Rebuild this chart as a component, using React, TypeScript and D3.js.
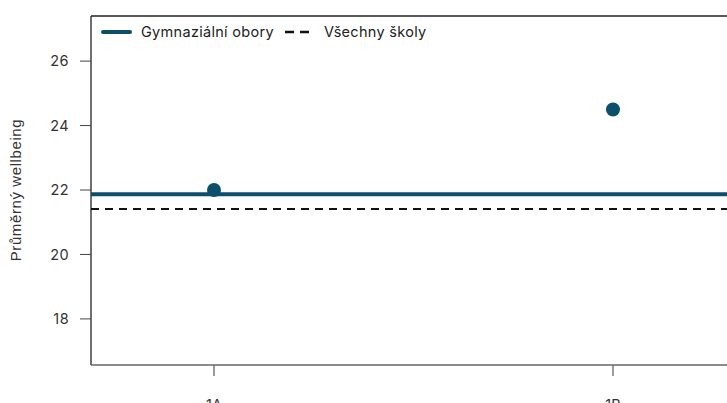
import React from 'react';
import * as d3 from 'd3';

const classes = ['1A', '1B'];
const wellbeing = [22.0, 24.5];
const groupMean = 21.87;
const allSchoolsMean = 21.41;
const yTicks = [18, 20, 22, 24, 26];
const legendLabels = ['Gymnaziální obory', 'Všechny školy'];

const TEAL = '#0b4f6c';
const W = 727,
  H = 403;
const plot = { left: 91, top: 16, bottom: 365, right: 740 };
const FONT = "Inter, 'Noto Sans', sans-serif";

export default function App() {
  const y = d3.scaleLinear().domain([16.57, 27.4]).range([plot.bottom, plot.top]);
  const xIndex = d3.scaleLinear().domain([0, 1]).range([214, 613]);
  const x = (c: string) => xIndex(classes.indexOf(c));

  const hline = (v: number) =>
    d3.line<number>()
      .x(d => d)
      .y(() => y(v))([plot.left, plot.right]) || '';

  return (
    <svg width={W} height={H} style={{ position: 'absolute', left: 0, top: 0, overflow: 'hidden' }}>
      <rect width={W} height={H} fill="#fff" />
      {/* plot box */}
      <line x1={plot.left} x2={plot.right} y1={plot.top} y2={plot.top} stroke="#222" strokeWidth={1.3} />
      <line x1={plot.left} x2={plot.left} y1={plot.top} y2={plot.bottom} stroke="#222" strokeWidth={1.3} />
      <line x1={plot.left} x2={plot.right} y1={plot.bottom} y2={plot.bottom} stroke="#666" strokeWidth={1.3} />

      {/* y axis */}
      {yTicks.map(t => (
        <g key={t}>
          <line x1={80} x2={plot.left} y1={y(t)} y2={y(t)} stroke="#444" strokeWidth={1} />
          <text x={69} y={y(t)} dy="0.36em" textAnchor="end" fontFamily={FONT} fontSize={14.5} letterSpacing={0.4} fill="#333">
            {t}
          </text>
        </g>
      ))}
      <text
        transform={`translate(21,${y(22)}) rotate(-90)`}
        textAnchor="middle"
        fontFamily="'Liberation Sans', Arial, sans-serif"
        fontSize={15}
        letterSpacing={0.6}
        fill="#333"
      >
        Průměrný wellbeing
      </text>

      {/* x axis */}
      {classes.map(c => (
        <g key={c}>
          <line x1={x(c)} x2={x(c)} y1={plot.bottom} y2={plot.bottom + 11} stroke="#666" strokeWidth={1.3} />
          <text x={x(c)} y={410} textAnchor="middle" fontFamily={FONT} fontSize={14.5} fill="#333">
            {c}
          </text>
        </g>
      ))}

      {/* reference lines */}
      <path d={hline(groupMean)} stroke={TEAL} strokeWidth={4} fill="none" />
      <path d={hline(allSchoolsMean)} stroke="#111" strokeWidth={2} strokeDasharray="8,6" fill="none" />

      {/* points */}
      {classes.map((c, i) => (
        <circle key={c} cx={x(c)} cy={y(wellbeing[i])} r={7} fill={TEAL} />
      ))}

      {/* legend */}
      <line x1={103} x2={130} y1={32} y2={32} stroke={TEAL} strokeWidth={4} strokeLinecap="round" />
      <text x={141} y={32} dy="0.36em" fontFamily={FONT} fontSize={14.5} letterSpacing={0.3} fill="#222">
        {legendLabels[0]}
      </text>
      <line x1={285} x2={311} y1={32} y2={32} stroke="#111" strokeWidth={2.5} strokeDasharray="9,6" />
      <text x={324} y={32} dy="0.36em" fontFamily={FONT} fontSize={14.5} letterSpacing={0.3} fill="#222">
        {legendLabels[1]}
      </text>
    </svg>
  );
}
